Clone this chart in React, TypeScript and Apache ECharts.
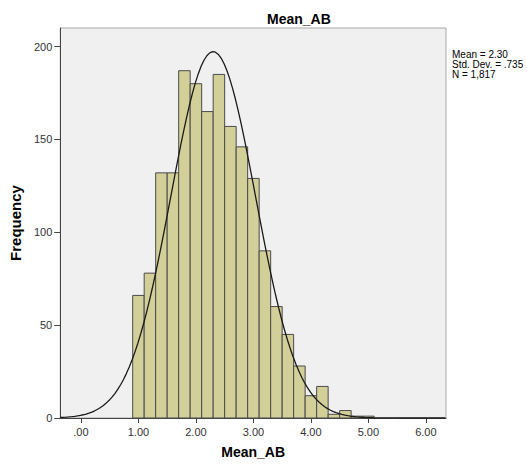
import React, { useEffect, useRef } from "react";
import * as echarts from "echarts";

// Histogram bins (centre of each 0.2-wide bin) and their frequencies
const binCenters = [1.0, 1.2, 1.4, 1.6, 1.8, 2.0, 2.2, 2.4, 2.6, 2.8, 3.0, 3.2, 3.4, 3.6, 3.8, 4.0, 4.2, 4.4, 4.6, 4.8, 5.0];
const frequencies = [66, 78, 132, 132, 187, 180, 165, 185, 157, 146, 129, 90, 60, 45, 28, 12, 17, 2, 4, 1, 1];
const binWidth = 0.2;

// Summary statistics shown in the chart
const statMean = 2.3;
const statStdDev = 0.735;
const statN = 1817;
const statLines = ["Mean = 2.30", "Std. Dev. = .735", "N = 1,817"];

// Axis ticks
const xTicks = [0, 1, 2, 3, 4, 5, 6];
const yTicks = [0, 50, 100, 150, 200];
const xMin = -0.36;
const xMax = 6.35;
const yMax = 210;

// Fitted normal curve from the stated mean / std. dev. / N
const curveStep = 0.05;
const curveX: number[] = [];
for (let x = xMin; x <= xMax + 1e-9; x += curveStep) curveX.push(+x.toFixed(3));
const normalCurve = curveX.map((x) => {
  const z = (x - statMean) / statStdDev;
  const y = (statN * binWidth) / (statStdDev * Math.sqrt(2 * Math.PI)) * Math.exp(-0.5 * z * z);
  return [x, y];
});

const FONT = "'Liberation Sans', Arial, sans-serif";

export default function App() {
  const ref = useRef<HTMLDivElement>(null);
  useEffect(() => {
    document.body.style.margin = "0";
    if (!ref.current) return;
    const chart = echarts.init(ref.current, undefined, { renderer: "svg" });
    chart.setOption({
      animation: false,
      backgroundColor: "#ffffff",
      textStyle: { fontFamily: FONT },
      title: {
        text: "Mean_AB",
        left: 262,
        top: 7,
        textStyle: { fontFamily: FONT, fontSize: 14, fontWeight: "bold", color: "#000" },
      },
      grid: {
        left: 57,
        top: 28,
        right: 81,
        bottom: 48,
        show: true,
        backgroundColor: "#f0f0f0",
        borderColor: "#a8a8a8",
        borderWidth: 1,
      },
      xAxis: {
        type: "value",
        min: xMin,
        max: xMax,
        name: "Mean_AB",
        nameLocation: "middle",
        nameGap: 27,
        nameTextStyle: { fontFamily: FONT, fontSize: 14, fontWeight: "bold", color: "#000" },
        axisLine: { show: true, onZero: false, lineStyle: { color: "#444", width: 1 } },
        axisTick: { show: true, customValues: xTicks, length: 5, lineStyle: { color: "#444" } },
        axisLabel: {
          customValues: xTicks,
          margin: 8,
          fontFamily: FONT,
          fontSize: 11,
          color: "#333",
          formatter: (v: number) => (v === 0 ? ".00" : v.toFixed(2)),
        },
        splitLine: { show: false },
      },
      yAxis: {
        type: "value",
        min: 0,
        max: yMax,
        name: "Frequency",
        nameLocation: "middle",
        nameGap: 33,
        nameTextStyle: { fontFamily: FONT, fontSize: 15, fontWeight: "bold", color: "#000" },
        axisLine: { show: true, onZero: false, lineStyle: { color: "#444", width: 1 } },
        axisTick: { show: true, customValues: yTicks, length: 6, lineStyle: { color: "#444" } },
        axisLabel: { customValues: yTicks, margin: 8, fontFamily: FONT, fontSize: 11, color: "#333" },
        splitLine: { show: false },
      },
      graphic: [
        {
          type: "text",
          left: 452,
          top: 49,
          style: {
            text: statLines.join("\n"),
            font: `10px ${FONT}`,
            lineHeight: 10,
            fill: "#000",
          },
        },
      ],
      series: [
        {
          type: "custom",
          data: binCenters.map((c, i) => [c, frequencies[i]]),
          encode: { x: 0, y: 1 },
          renderItem: (params: any, api: any) => {
            const c = api.value(0);
            const f = api.value(1);
            const p0 = api.coord([c - binWidth / 2, f]);
            const p1 = api.coord([c + binWidth / 2, 0]);
            return {
              type: "rect",
              shape: { x: p0[0], y: p0[1], width: p1[0] - p0[0], height: p1[1] - p0[1] },
              style: { fill: "#d3cf98", stroke: "#4a4a4a", lineWidth: 1 },
            };
          },
          z: 2,
        },
        {
          type: "line",
          data: normalCurve,
          showSymbol: false,
          smooth: false,
          lineStyle: { color: "#1a1a1a", width: 1.3 },
          z: 3,
        },
      ],
    });
    return () => chart.dispose();
  }, []);
  return <div ref={ref} style={{ width: 527, height: 466 }} />;
}
